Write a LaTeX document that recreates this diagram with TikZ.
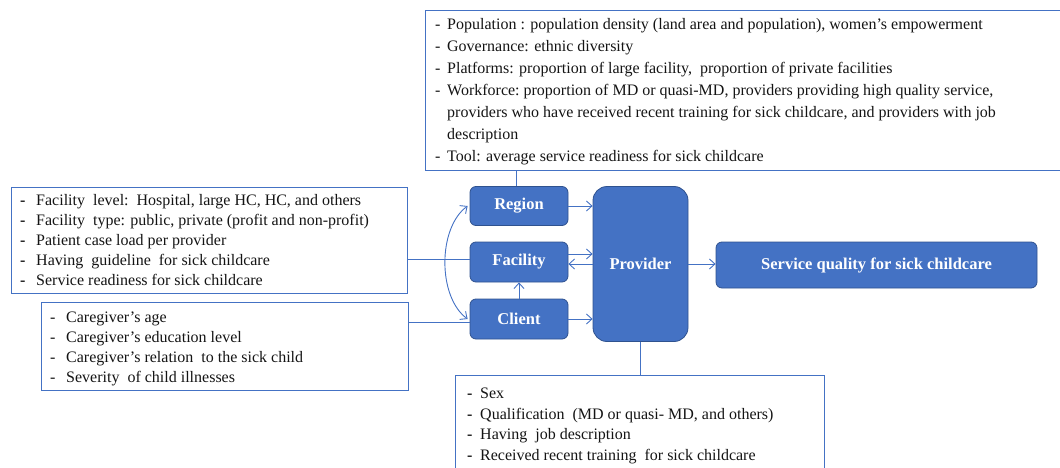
\documentclass[tikz,border=0pt]{standalone}
\usepackage{fontspec}
\setmainfont{Liberation Serif}
\usetikzlibrary{arrows.meta}
\definecolor{obl}{HTML}{4472C4}
\definecolor{odk}{HTML}{2F528F}
\definecolor{txt}{HTML}{141414}
\newcommand\itmA[1]{\makebox[12pt][l]{-}#1}
\newcommand\itmB[1]{\makebox[16pt][l]{\textbf{-}}#1}
\newcommand\itmC[1]{\makebox[16pt][l]{-}#1}
\newcommand\itmD[1]{\makebox[13pt][l]{\textbf{-}}#1}
\begin{document}
\begin{tikzpicture}[x=1pt,y=-1pt,
  blk/.style={fill=obl, draw=odk, line width=0.8pt, rounded corners=6pt, text=white,
    font=\fontsize{16.5}{18}\selectfont\bfseries, inner sep=0pt},
  txtbox/.style={draw=obl, line width=0.9pt, inner sep=0pt},
  lst/.style={anchor=north west, align=left, inner sep=0pt, text=txt},
  conn/.style={draw=obl, line width=0.9pt},
  arr/.style={conn, -{Straight Barb[length=5.5pt,width=10pt]}},
  darr/.style={conn, {Straight Barb[length=5.5pt,width=10pt]}-{Straight Barb[length=5.5pt,width=10pt]}}]
\useasboundingbox (0,0) rectangle (1060,468);

% text boxes
\draw[conn] (1062,10) -- (425,10) -- (425,170) -- (1062,170);
\coordinate (topS) at (516,170);
\node[lst, font=\fontsize{16}{22}\selectfont] (toptxt) at (435,18) {%
\itmA{Population : population density (land area and population), women's empowerment}\\
\itmA{Governance: ethnic diversity}\\
\itmA{Platforms: proportion of large facility,\ \ proportion of private facilities}\\
\itmA{Workforce:\ proportion of MD or quasi-MD, providers providing high quality service,}\\
\hspace*{12pt}providers who have received recent training\ for sick childcare, and providers with job\\
\hspace*{12pt}description\\
\itmA{Tool: average\ service readiness\ for sick childcare}};

\node[txtbox, anchor=north west, minimum width=396pt, minimum height=106pt] (facbox) at (11,187) {};
\node[lst, font=\fontsize{16}{20}\selectfont] (factxt) at (20,194.5) {%
\itmB{Facility\ \ level:\ \ Hospital, large HC, HC, and others}\\
\itmB{Facility\ \ type: public, private (profit and non-profit)}\\
\itmB{Patient case load per provider}\\
\itmB{Having\ \ guideline\ \ for sick childcare}\\
\itmB{Service readiness for sick childcare}};

\node[txtbox, anchor=north west, minimum width=367pt, minimum height=88pt] (clibox) at (41,302) {};
\node[lst, font=\fontsize{16}{20}\selectfont] (clitxt) at (50,311.5) {%
\itmC{Caregiver's age}\\
\itmC{Caregiver's education level}\\
\itmC{Caregiver's relation\ \ to the sick child}\\
\itmC{Severity\ \ of child illnesses}};

\draw[conn] (455,470) -- (455,375) -- (824,375) -- (824,470);
\coordinate (botN) at (640.5,375);
\node[lst, font=\fontsize{16}{20.5}\selectfont] (bottxt) at (467,388) {%
\itmD{Sex}\\
\itmD{Qualification\ \ (MD or quasi- MD, and others)}\\
\itmD{Having\ \ job description}\\
\itmD{Received recent training\ \ for sick childcare}};

% blue nodes
\node[blk, minimum width=98pt, minimum height=39pt] (region) at (519,206) {Region};
\node[blk, minimum width=98pt, minimum height=40pt] (facility) at (519,262) {Facility};
\node[blk, minimum width=98pt, minimum height=40pt] (client) at (519,319) {Client};
\node[blk, rounded corners=14pt, minimum width=95pt, minimum height=155pt] (provider) at (640.5,264) {Provider};
\node[blk, minimum width=321pt, minimum height=46pt] (service) at (876.5,265) {Service quality for sick childcare};

% connectors
\draw[conn] (topS) -- (topS |- region.north);
\draw[conn] (provider.south) -- (botN);
\draw[conn] ([yshift=3pt]facility.west) -- ([yshift=3pt]facility.west -| facbox.east);
\draw[conn] ([yshift=-3pt]client.west) -- ([yshift=-3pt]client.west -| clibox.east);
\draw[arr] (region.east) -- (region.east -| provider.west);
\draw[arr] ([yshift=8pt]facility.east) -- ([yshift=8pt]facility.east -| provider.west);
\draw[arr] ([yshift=-2pt]facility.east -| provider.west) -- ([yshift=-2pt]facility.east);
\draw[arr] (client.east) -- (client.east -| provider.west);
\draw[arr] (client.north) -- (facility.south);
\draw[arr] (provider.east) -- (provider.east -| service.west);
\draw[darr] ([xshift=-2pt]region.west) .. controls +(-30,22) and +(-30,-22) .. ([xshift=-2pt]client.west);
\end{tikzpicture}
\end{document}
